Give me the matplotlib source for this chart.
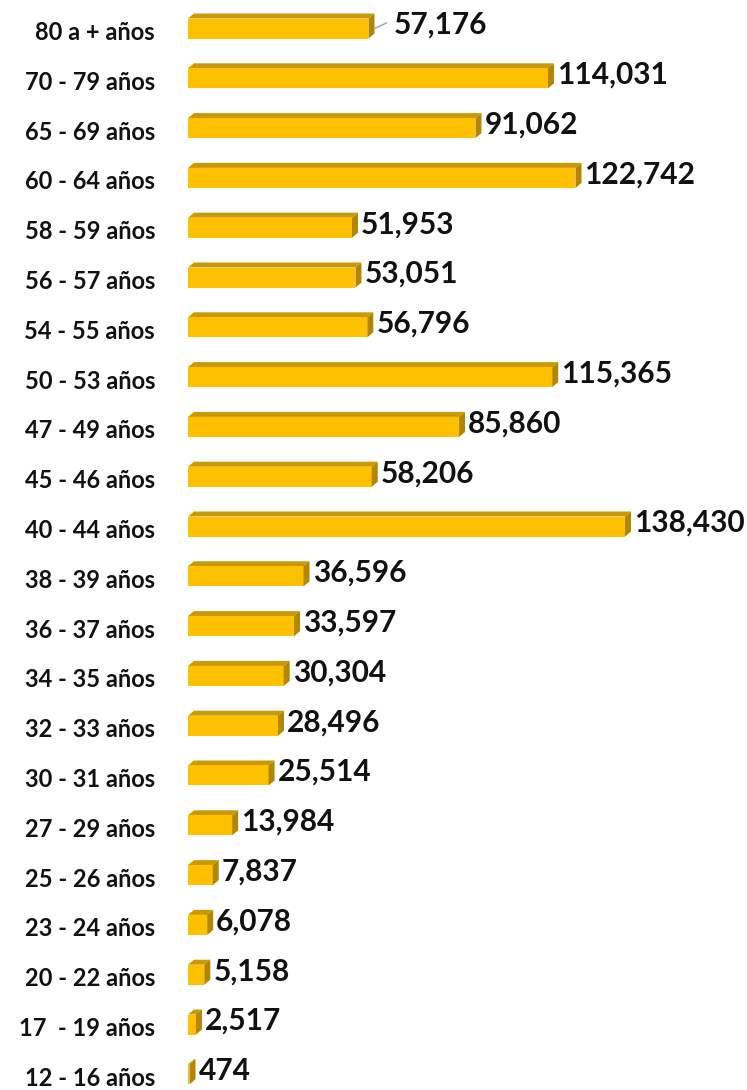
import matplotlib.pyplot as plt
from matplotlib.patches import Polygon

# grupos de edad (de arriba hacia abajo) y población
grupos = ['80 a + años', '70 - 79 años', '65 - 69 años', '60 - 64 años', '58 - 59 años',
          '56 - 57 años', '54 - 55 años', '50 - 53 años', '47 - 49 años', '45 - 46 años',
          '40 - 44 años', '38 - 39 años', '36 - 37 años', '34 - 35 años', '32 - 33 años',
          '30 - 31 años', '27 - 29 años', '25 - 26 años', '23 - 24 años', '20 - 22 años',
          '17  - 19 años', '12 - 16 años']
valores = [57176, 114031, 91062, 122742, 51953, 53051, 56796, 115365, 85860, 58206,
           138430, 36596, 33597, 30304, 28496, 25514, 13984, 7837, 6078, 5158, 2517, 474]

W, H = 747, 1090
x0_px = 188            # where value 0 sits
px_per_unit = 437 / 138430
row0_px, row_step = 26, 49.8

fig = plt.figure(figsize=(W / 100, H / 100), dpi=100)
ax = fig.add_axes([0, 0, 1, 1])
ax.set_xlim(-x0_px / px_per_unit, (W - x0_px) / px_per_unit)
ax.set_ylim((H - row0_px) / row_step, -row0_px / row_step)
ax.axis('off')

front = '#FFC000'
top = '#C99A06'
side = '#B38600'

dx = 6 / px_per_unit        # depth in x
dy = 5 / row_step           # depth in y
h = 20 / row_step           # front face height
yoff = 2.5 / row_step

pos = list(range(len(grupos)))
centers = [p + yoff for p in pos]
ax.barh(centers, valores, height=h, color=front, edgecolor='none', zorder=3)

for c, v in zip(centers, valores):
    ft = c - h / 2
    fb = c + h / 2
    ax.add_patch(Polygon([(0, ft), (v, ft), (v + dx, ft - dy), (dx, ft - dy)],
                         closed=True, facecolor=top, edgecolor='none', zorder=2))
    ax.add_patch(Polygon([(v, ft), (v + dx, ft - dy), (v + dx, fb - dy), (v, fb)],
                         closed=True, facecolor=side, edgecolor='none', zorder=4))

for i, (g, v) in enumerate(zip(grupos, valores)):
    ax.text(-33 / px_per_unit, i + 0.13, g, ha='right', va='center',
            fontsize=17, fontweight='bold', family=['Lato', 'DejaVu Sans'], color='#111111')
    gap = 3 if i > 0 else 19
    ax.text(v + dx + gap / px_per_unit, i - 0.02, f'{v:,}', ha='left', va='center',
            fontsize=21.5, fontweight='bold', family=['Lato', 'DejaVu Sans'], color='#111111')

# línea guía de la primera etiqueta
ax.plot([valores[0] + dx, valores[0] + dx + 12 / px_per_unit], [0.05, -0.06],
        color='#A0A0A0', lw=1, zorder=5)

fig.savefig('out.png', dpi=100, facecolor='white')
